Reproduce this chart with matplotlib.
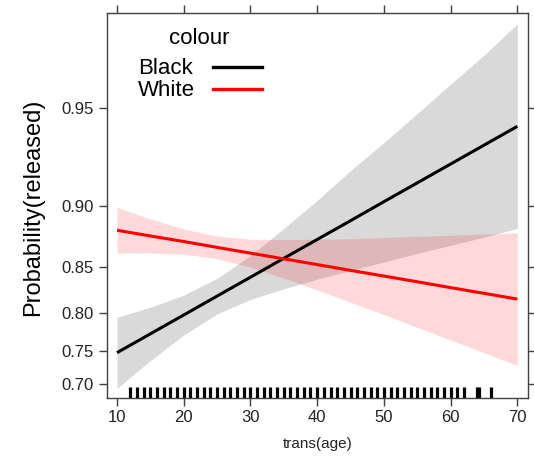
import matplotlib
matplotlib.use("Agg")
import matplotlib.pyplot as plt
from matplotlib.lines import Line2D
from matplotlib.ticker import FixedLocator, FixedFormatter, NullLocator

plt.rcParams['font.family'] = ['Liberation Sans', 'DejaVu Sans']

# values (probability scale)
ages = [10, 15, 20, 25, 30, 35, 40, 45, 50, 55, 60, 65, 70]
black_fit = [0.7475, 0.7736, 0.7977, 0.8199, 0.8401, 0.8585, 0.8750, 0.8898, 0.9032, 0.9150, 0.9255, 0.9348, 0.9430]
black_up = [0.795, 0.807, 0.821, 0.839, 0.861, 0.884, 0.904, 0.922, 0.936, 0.948, 0.958, 0.966, 0.973]
black_lo = [0.693, 0.736, 0.772, 0.799, 0.816, 0.828, 0.838, 0.847, 0.855, 0.863, 0.870, 0.877, 0.884]
white_fit = [0.8825, 0.8779, 0.8733, 0.8683, 0.8632, 0.8580, 0.8526, 0.8470, 0.8413, 0.8354, 0.8292, 0.8230, 0.8165]
white_up = [0.8994, 0.8911, 0.8834, 0.8778, 0.8753, 0.8749, 0.8752, 0.8757, 0.8767, 0.8776, 0.8785, 0.8795, 0.8804]
white_lo = [0.8633, 0.8634, 0.8623, 0.8582, 0.8500, 0.8393, 0.8267, 0.8129, 0.7982, 0.7821, 0.7653, 0.7476, 0.7289]
rug_ages = list(range(12, 63)) + [64, 64.2, 66]

y_ticks = [0.70, 0.75, 0.80, 0.85, 0.90, 0.95]
y_labels = ["0.70", "0.75", "0.80", "0.85", "0.90", "0.95"]
x_ticks = [10, 20, 30, 40, 50, 60, 70]

frame_col = '#404040'
text_col = '#222222'

fig = plt.figure(figsize=(5.34, 4.62), dpi=100)
ax = fig.add_axes([107/534, 64/462, 421/534, 385/462])
ax.set_yscale('logit')

# bands + lines, black first then white (pink band sits over black line)
ax.fill_between(ages, black_lo, black_up, color='black', alpha=0.15, lw=0)
ax.plot(ages, black_fit, color='black', lw=2.2, solid_capstyle='butt')
ax.fill_between(ages, white_lo, white_up, color='red', alpha=0.15, lw=0)
ax.plot(ages, white_fit, color='red', lw=2.2, solid_capstyle='butt')

# rug
ax.vlines(rug_ages, 0, 0.028, transform=ax.get_xaxis_transform(),
          color='black', lw=2.3)

ax.set_xlim(8.5, 71.6)
ax.set_ylim(0.6772, 0.9751)

ax.yaxis.set_major_locator(FixedLocator(y_ticks))
ax.yaxis.set_major_formatter(FixedFormatter(y_labels))
ax.yaxis.set_minor_locator(NullLocator())
ax.set_xticks(x_ticks)
ax.set_xticklabels([str(v) for v in x_ticks])

ax.tick_params(direction='out', length=5.5, width=1, color=frame_col,
               labelsize=12, labelcolor=text_col, top=True, right=True,
               labeltop=False, labelright=False, pad=3)
ax.tick_params(axis='y', pad=4)
for s in ax.spines.values():
    s.set_color(frame_col)
    s.set_linewidth(1)

ax.set_xlabel('trans(age)', fontsize=11, color=text_col, labelpad=9)
fig.text(33/534, 1 - 207/462, 'Probability(released)', rotation=90,
         fontsize=17, color='black', ha='center', va='center')

# legend
fig.text(199/534, 1 - 39/462, 'colour', fontsize=16, ha='center', va='center')
fig.text(138/534, 1 - 69/462, 'Black', fontsize=16, ha='left', va='center')
fig.text(138/534, 1 - 91/462, 'White', fontsize=16, ha='left', va='center')
fig.add_artist(Line2D([213/534, 262/534], [1 - 67/462, 1 - 67/462], color='black', lw=2.4))
fig.add_artist(Line2D([213/534, 262/534], [1 - 89/462, 1 - 89/462], color='red', lw=2.4))

fig.savefig('out.png', dpi=100)
